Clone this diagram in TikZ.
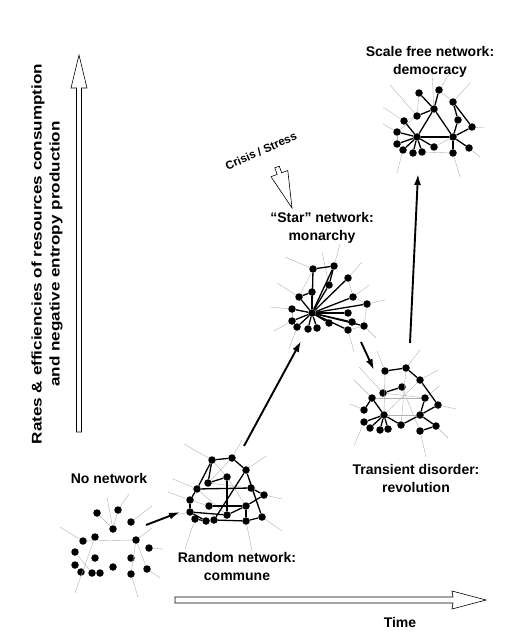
\documentclass[tikz,border=0pt]{standalone}
\usepackage{fontspec}
\setmainfont{Liberation Sans}
\usetikzlibrary{arrows.meta}
\begin{document}
\begin{tikzpicture}[x=1pt,y=-1pt,
  dot/.style={circle,fill=black,inner sep=0pt,minimum size=7.5pt},
  tie/.style={line width=1.3pt},
  mesh/.style={gray!60,line width=0.4pt},
  trend/.style={line width=1.9pt,-{Latex[length=11pt,width=7pt]}},
  caption/.style={font=\fontsize{14}{18}\selectfont\bfseries,align=center},
  hollow/.style={draw=black,fill=white,line width=0.6pt}]
\useasboundingbox (0,0) rectangle (507,639);

% axes
\draw[hollow] (76.5,432) -- (76.5,88) -- (71,88) -- (79,55) -- (87,88) -- (81.5,88) -- (81.5,432) -- cycle;
\draw[hollow] (175,597) -- (453,597) -- (452,591) -- (486,600) -- (452,609) -- (453,603) -- (175,603) -- cycle;
\node[caption,rotate=90,xscale=1.22] (rates) at (47,254) {Rates \& efficiencies of resources consumption\\and negative entropy production};
\node[caption] (time) at (400,622) {Time};

% no network
\foreach \n/\x/\y in {a/97/513,b/118/510,c/113/529,d/131/522,e/83/541,f/95/537,g/136/540,h/149/548,i/75/552,j/95/558,k/131/558,l/75/565,m/81/572,n/92/573,o/100/573,p/113/567,q/131/574,r/147/569}
  \node[dot] (A\n) at (\x,\y) {};
\foreach \u/\v in {a/c,b/c,e/g,i/n,g/q,g/r}
  \draw[mesh] (A\u) -- (A\v);
\foreach \n/\dx/\dy in {c/-6/-32,b/11/-16,d/21/-16,e/-23/-14,f/-20/56,g/16/-12,h/14/1,r/13/9,q/7/23}
  \draw[mesh] (A\n) -- ++(\dx,\dy);
\node[caption] (none) at (109,478) {No network};

% random network
\foreach \n/\x/\y in {a/212/460,b/232/458,c/246/470,d/227/477,e/208/483,f/197/489,g/251/488,h/264/495,i/190/500,j/209/506,k/246/506,l/190/512,m/227/515,n/195/519,o/206/521,p/214/520,q/246/521,r/262/517}
  \node[dot] (B\n) at (\x,\y) {};
\foreach \u/\v in {a/d,b/e,c/g,e/g,f/m,d/k,i/j,g/r}
  \draw[mesh] (B\u) -- (B\v);
\foreach \n/\dx/\dy in {a/-28/-16,b/10/-18,c/20/-14,f/-24/-10,h/18/4,i/-22/-8,r/20/14,q/6/30,n/-10/30,l/-20/4}
  \draw[mesh] (B\n) -- ++(\dx,\dy);
\foreach \u/\v in {a/b,b/c,a/f,a/e,e/d,f/g,f/i,i/l,l/m,j/k,c/r,c/p,g/h,h/k,k/q,q/r,p/q,n/o,o/p,l/o,d/m,m/k}
  \draw[tie] (B\u) -- (B\v);
\node[caption] (commune) at (237,566) {Random network:\\commune};

% star network
\node[dot] (Cz) at (312,313) {};
\foreach \n/\x/\y in {a/313/269,b/334/266,c/348/278,d/329/285,e/299/297,f/312/292,g/353/297,h/367/304,i/292/309,j/348/313,k/292/321,l/352/322,m/297/327,n/308/329,o/317/328,p/329/323,q/348/330,r/364/326}
  \node[dot] (C\n) at (\x,\y) {};
\foreach \u/\v in {c/g,g/h,h/r,r/q,i/k,a/e,l/r}
  \draw[mesh] (C\u) -- (C\v);
\foreach \n/\dx/\dy in {a/-28/-12,b/6/-22,c/14/-16,d/-7/-33,e/-22/-14,h/18/-4,i/-22/-2,r/12/12,m/-8/22,q/6/22,k/-18/10,g/16/-12}
  \draw[mesh] (C\n) -- ++(\dx,\dy);
\foreach \n in {a,b,c,d,e,f,g,h,i,j,k,l,m,n,o,p,q,r}
  \draw[tie] (Cz) -- (C\n);
\foreach \u/\v in {a/b,e/f,b/d}
  \draw[tie] (C\u) -- (C\v);
\node[caption] (monarchy) at (322,228) {``Star'' network:\\monarchy};

% transient disorder
\foreach \n/\x/\y in {a/385/371,b/406/368,c/420/380,d/402/387,e/383/393,f/372/398,g/425/398,h/438/405,i/364/410,j/384/415,k/420/415,l/364/422,m/370/428,n/380/430,o/388/429,p/401/425,q/420/431,r/436/426}
  \node[dot] (D\n) at (\x,\y) {};
\foreach \u/\v in {e/g,a/j,b/p,c/j,f/g,j/k,d/q}
  \draw[mesh] (D\u) -- (D\v);
\foreach \n/\dx/\dy in {a/-8/-20,b/14/-18,c/18/-10,f/-18/-18,h/18/4,i/-14/-6,l/-10/24,q/6/26,r/12/12,g/14/-12,e/-24/-26}
  \draw[mesh] (D\n) -- ++(\dx,\dy);
\foreach \u/\v in {a/b,b/c,c/h,d/e,f/i,f/j,j/l,j/m,j/n,j/o,j/p,p/k,k/g,k/r,q/r,h/k}
  \draw[tie] (D\u) -- (D\v);
\node[caption] (revolution) at (416,478) {Transient disorder:\\revolution};

% scale free network
\foreach \n/\x/\y in {a/419/93,b/439/90,c/453/102,d/434/109,e/417/116,f/404/121,g/458/120,h/472/127,i/397/132,j/417/137,k/453/137,l/397/144,m/403/150,n/413/153,o/422/152,p/434/147,q/453/153,r/469/148}
  \node[dot] (E\n) at (\x,\y) {};
\foreach \u/\v in {a/e,b/c,e/i,f/e,p/k,o/q,i/l}
  \draw[mesh] (E\u) -- (E\v);
\foreach \n/\dx/\dy in {e/-27/-31,f/-21/-14,d/-2/-36,b/11/-17,c/17/-19,h/13/1,r/11/9,q/7/24,m/-6/23,i/-14/-8}
  \draw[mesh] (E\n) -- ++(\dx,\dy);
\foreach \u/\v in {j/i,j/l,j/m,j/n,j/o,j/f,j/d,j/k,j/p,d/b,d/e,d/a,d/k,c/h,c/g,g/k,k/r,k/q,k/h}
  \draw[tie] (E\u) -- (E\v);
\node[caption] (democracy) at (430,62) {Scale free network:\\democracy};

% crisis
\node[font=\fontsize{11.5}{13}\selectfont\bfseries,rotate=24] (crisis) at (261,151) {Crisis / Stress};
\draw[hollow] (274.75,167.8) -- (277.15,174.4) -- (271.0,176.7) -- (292,208) -- (287.8,170.5) -- (281.65,172.8) -- (279.25,166.2) -- cycle;

% transitions
\coordinate (none-out) at (146,525);
\coordinate (commune-in) at (180,512);
\coordinate (commune-out) at (244,446);
\coordinate (monarchy-in) at (301,341);
\coordinate (monarchy-out) at (361,342);
\coordinate (revolution-in) at (374,370);
\coordinate (revolution-out) at (410,343);
\coordinate (democracy-in) at (418,174);
\draw[trend] (none-out) -- (commune-in);
\draw[trend] (commune-out) -- (monarchy-in);
\draw[trend] (monarchy-out) -- (revolution-in);
\draw[trend] (revolution-out) -- (democracy-in);
\end{tikzpicture}
\end{document}
